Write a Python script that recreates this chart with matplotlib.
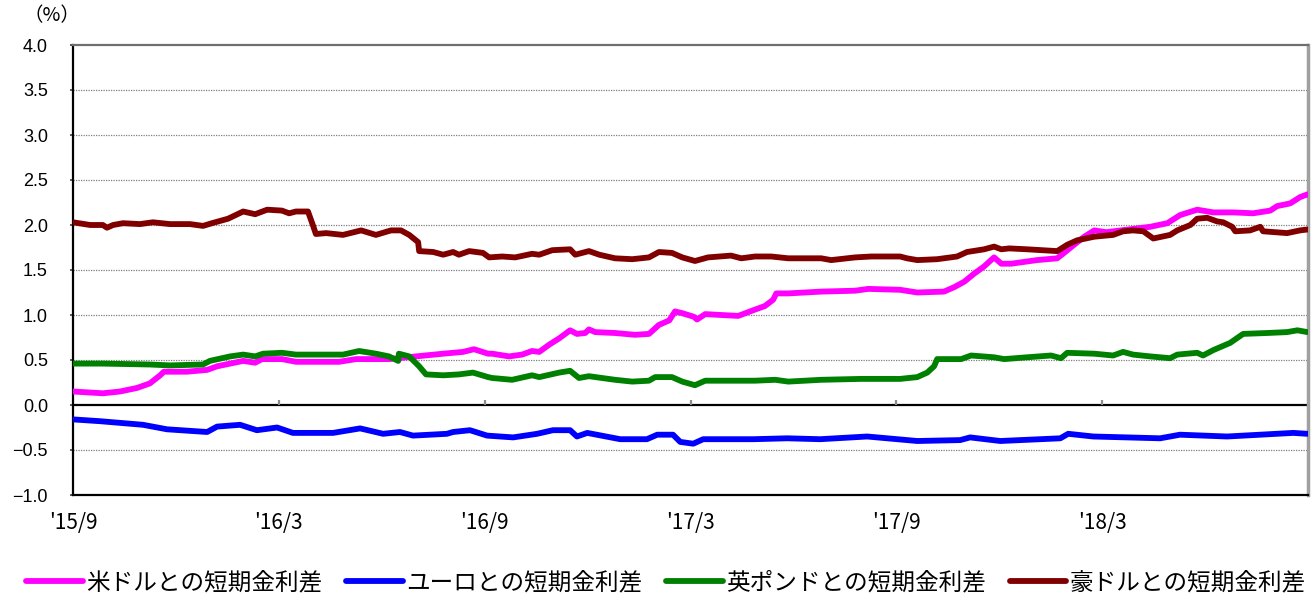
import matplotlib
matplotlib.use("Agg")
import matplotlib.pyplot as plt

# x = months since 2015/9, values in %
usd_m = [0.00, 0.87, 1.37, 1.87, 2.24, 2.54, 2.65, 3.32, 3.91, 4.20, 4.58, 4.96, 5.31, 5.51,
         6.09, 6.50, 7.76, 8.25, 9.21, 10.00, 10.79, 11.37, 11.69, 12.10, 12.22, 12.71,
         13.09, 13.38, 13.59, 13.88, 14.17, 14.49, 14.69, 14.93, 15.04, 15.22, 15.80,
         16.38, 16.79, 17.08, 17.38, 17.55, 17.76, 18.10, 18.19, 18.43, 18.89, 19.39,
         19.88, 20.17, 20.41, 20.50, 20.85, 21.81, 22.80, 23.18, 24.11, 24.61, 25.39,
         25.69, 25.98, 26.27, 26.56, 26.76, 26.85, 27.06, 27.35, 28.10, 28.69, 28.89,
         29.18, 29.48, 29.77, 30.12, 31.40, 31.90, 32.27, 32.77, 33.24, 33.82, 34.40,
         34.90, 35.10, 35.48, 35.77, 35.98]
usd_v = [0.15, 0.13, 0.15, 0.19, 0.24, 0.33, 0.37, 0.37, 0.39, 0.43, 0.46, 0.49, 0.47, 0.51,
         0.51, 0.48, 0.48, 0.51, 0.51, 0.54, 0.57, 0.59, 0.62, 0.57, 0.57, 0.54,
         0.56, 0.60, 0.59, 0.67, 0.74, 0.83, 0.79, 0.80, 0.84, 0.81, 0.80,
         0.78, 0.79, 0.89, 0.94, 1.04, 1.02, 0.98, 0.95, 1.01, 1.00, 0.99,
         1.06, 1.10, 1.17, 1.24, 1.24, 1.26, 1.27, 1.29, 1.28, 1.25, 1.26,
         1.31, 1.37, 1.46, 1.54, 1.61, 1.64, 1.57, 1.57, 1.61, 1.63, 1.69,
         1.78, 1.87, 1.94, 1.92, 1.98, 2.02, 2.11, 2.17, 2.14, 2.14, 2.13,
         2.16, 2.21, 2.24, 2.31, 2.34]

eur_m = [0.00, 0.79, 2.04, 2.74, 3.91, 4.20, 4.87, 5.36, 5.95, 6.41, 7.58, 8.37, 9.04, 9.53,
         9.91, 10.90, 11.08, 11.57, 12.07, 12.83, 13.53, 13.99, 14.49, 14.69, 14.99, 15.95,
         16.73, 17.03, 17.49, 17.70, 18.08, 18.37, 19.83, 20.82, 21.78, 23.15, 24.61, 25.86,
         26.15, 27.03, 28.78, 29.01, 29.74, 31.69, 32.27, 33.64, 35.57, 35.98]
eur_v = [-0.16, -0.18, -0.22, -0.27, -0.30, -0.24, -0.22, -0.28, -0.25, -0.31, -0.31, -0.26,
         -0.32, -0.30, -0.34, -0.32, -0.30, -0.28, -0.34, -0.36, -0.32, -0.28, -0.28, -0.35,
         -0.31, -0.38, -0.38, -0.33, -0.33, -0.41, -0.43, -0.38, -0.38, -0.37, -0.38, -0.35,
         -0.40, -0.39, -0.36, -0.40, -0.37, -0.32, -0.35, -0.37, -0.33, -0.35, -0.31, -0.32]

gbp_m = [0.00, 0.87, 2.24, 2.83, 3.79, 3.99, 4.58, 4.96, 5.31, 5.54, 6.09, 6.50, 7.87, 8.34,
         8.83, 9.21, 9.48, 9.50, 9.80, 10.09, 10.29, 10.79, 11.25, 11.66, 12.10, 12.22,
         12.80, 13.38, 13.59, 14.17, 14.49, 14.75, 15.04, 15.80, 16.30, 16.79, 16.97,
         17.46, 17.76, 18.13, 18.43, 19.88, 20.47, 20.85, 21.81, 22.97, 24.11, 24.61,
         24.90, 25.10, 25.19, 25.89, 26.18, 26.85, 27.14, 27.81, 28.51, 28.80, 28.98,
         29.77, 30.32, 30.61, 30.90, 31.40, 31.98, 32.19, 32.77, 32.94, 33.24, 33.73,
         34.11, 34.81, 35.39, 35.69, 35.98]
gbp_v = [0.46, 0.46, 0.45, 0.44, 0.45, 0.49, 0.54, 0.56, 0.54, 0.57, 0.58, 0.56, 0.56, 0.60,
         0.57, 0.54, 0.49, 0.57, 0.54, 0.43, 0.34, 0.33, 0.34, 0.36, 0.31, 0.30,
         0.28, 0.33, 0.31, 0.36, 0.38, 0.30, 0.32, 0.28, 0.26, 0.27, 0.31,
         0.31, 0.26, 0.22, 0.27, 0.27, 0.28, 0.26, 0.28, 0.29, 0.29, 0.31,
         0.36, 0.43, 0.51, 0.51, 0.55, 0.53, 0.51, 0.53, 0.55, 0.52, 0.58,
         0.57, 0.55, 0.59, 0.56, 0.54, 0.52, 0.56, 0.58, 0.55, 0.61, 0.69,
         0.79, 0.80, 0.81, 0.83, 0.81]

aud_m = [0.00, 0.50, 0.87, 0.99, 1.17, 1.46, 1.95, 2.33, 2.83, 3.41, 3.79, 4.05, 4.52, 4.96,
         5.31, 5.66, 6.09, 6.30, 6.50, 6.85, 7.00, 7.08, 7.38, 7.87, 8.40, 8.83, 9.27,
         9.56, 9.80, 10.06, 10.09, 10.50, 10.79, 11.08, 11.25, 11.55, 11.95, 12.13, 12.51,
         12.89, 13.38, 13.59, 13.97, 14.49, 14.64, 15.04, 15.34, 15.80, 16.30, 16.79,
         17.08, 17.46, 17.76, 18.13, 18.51, 19.18, 19.48, 19.88, 20.35, 20.85, 21.81,
         22.10, 22.80, 23.27, 24.11, 24.31, 24.61, 25.19, 25.77, 26.06, 26.56, 26.85,
         27.06, 27.29, 27.81, 28.69, 28.98, 29.27, 29.77, 30.32, 30.61, 30.90, 31.20,
         31.49, 31.98, 32.19, 32.57, 32.77, 33.06, 33.35, 33.53, 33.79, 33.88, 34.31,
         34.61, 34.69, 35.39, 35.77, 35.98]
aud_v = [2.03, 2.00, 2.00, 1.97, 2.00, 2.02, 2.01, 2.03, 2.01, 2.01, 1.99, 2.02, 2.07, 2.15,
         2.12, 2.17, 2.16, 2.13, 2.15, 2.15, 1.99, 1.90, 1.91, 1.89, 1.94, 1.89, 1.94,
         1.94, 1.89, 1.81, 1.71, 1.70, 1.67, 1.70, 1.67, 1.71, 1.69, 1.64, 1.65,
         1.64, 1.68, 1.67, 1.72, 1.73, 1.67, 1.71, 1.67, 1.63, 1.62, 1.64,
         1.70, 1.69, 1.64, 1.60, 1.64, 1.66, 1.63, 1.65, 1.65, 1.63, 1.63,
         1.61, 1.64, 1.65, 1.65, 1.63, 1.61, 1.62, 1.65, 1.70, 1.73, 1.76,
         1.73, 1.74, 1.73, 1.71, 1.78, 1.83, 1.87, 1.89, 1.93, 1.94, 1.93,
         1.85, 1.89, 1.94, 2.00, 2.07, 2.08, 2.04, 2.03, 1.98, 1.93, 1.94,
         1.98, 1.93, 1.91, 1.94, 1.95]

x_ticks = [0, 6, 12, 18, 24, 30]
x_labels = ["'15/9", "'16/3", "'16/9", "'17/3", "'17/9", "'18/3"]
y_ticks = [-1.0, -0.5, 0.0, 0.5, 1.0, 1.5, 2.0, 2.5, 3.0, 3.5, 4.0]

series = [
    (usd_m, usd_v, "#ff00ff", "米ドルとの短期金利差"),
    (eur_m, eur_v, "#0000ff", "ユーロとの短期金利差"),
    (gbp_m, gbp_v, "#008000", "英ポンドとの短期金利差"),
    (aud_m, aud_v, "#800000", "豪ドルとの短期金利差"),
]

jp = "Noto Sans CJK JP"

fig = plt.figure(figsize=(13.11, 6.02), dpi=100)
ax = fig.add_axes([73 / 1311, 1 - 495 / 602, 1235 / 1311, 450 / 602])

for m, v, c, lab in series:
    ax.plot(m, v, color=c, lw=4.2, label=lab,
            solid_capstyle="round", solid_joinstyle="round", zorder=3)

ax.set_xlim(0, 36)
ax.set_ylim(-1, 4)

# dotted grid, solid zero line
for t in y_ticks:
    if t not in (-1.0, 0.0, 4.0):
        ax.axhline(t, color="#7f7f7f", lw=0.9, ls=(0, (1, 1)), zorder=1)
ax.axhline(0, color="black", lw=1.6, zorder=2)
ax.vlines(x_ticks[1:], 0, 0.06, color="#8c8c8c", lw=1.6, zorder=2)

ax.set_yticks(y_ticks)
ax.set_yticklabels([f"{t:.1f}".replace("-", "\u2212") for t in y_ticks],
                   fontfamily="Liberation Sans", fontsize=13)
ax.tick_params(axis="y", length=2, width=1.2, color="#404040", pad=16)

ax.set_xticks(x_ticks)
ax.set_xticklabels(x_labels, fontfamily=jp, fontsize=15)
ax.tick_params(axis="x", length=0, pad=12)

for side in ("left", "bottom"):
    ax.spines[side].set_color("black")
    ax.spines[side].set_linewidth(1.6)
ax.spines["top"].set_color("#6f6f6f")
ax.spines["top"].set_linewidth(1.6)
ax.spines["right"].set_color("#a0a0a0")
ax.spines["right"].set_linewidth(2.5)

fig.text(52 / 1311, 1 - 16 / 602, "（%）", fontfamily=jp, fontsize=14,
         ha="center", va="center")

fig.legend(loc="center", bbox_to_anchor=(0.508, 0.032), ncol=4, frameon=False,
           prop={"family": jp, "size": 17}, handlelength=2.4, handletextpad=0.15,
           columnspacing=1.0, borderpad=0)

fig.savefig("out.png", dpi=100)
